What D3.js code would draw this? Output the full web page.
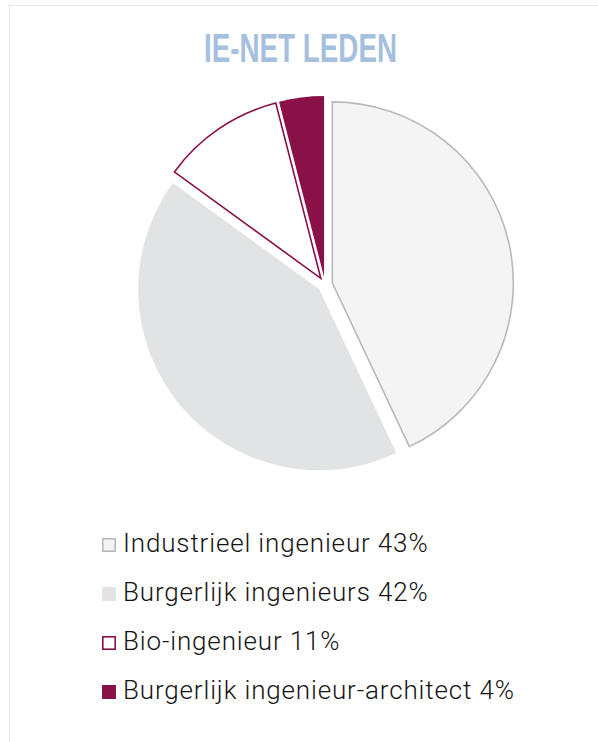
<!DOCTYPE html>
<html>
<head>
<meta charset="utf-8">
<script src="https://cdn.jsdelivr.net/npm/d3@7"></script>
<style>
  html, body { margin: 0; padding: 0; background: #fff; }
</style>
</head>
<body>
<div id="chart-area"></div>
<script>
const WIDTH = 598
const HEIGHT = 742

// data
const categories = ["Industrieel ingenieur", "Burgerlijk ingenieurs", "Bio-ingenieur", "Burgerlijk ingenieur-architect"]
const shares = [43, 42, 11, 4]
const legendLabels = ["Industrieel ingenieur 43%", "Burgerlijk ingenieurs 42%", "Bio-ingenieur 11%", "Burgerlijk ingenieur-architect 4%"]

const fills = ["#f4f4f5", "#e2e3e5", "#ffffff", "#8a1048"]
const strokes = ["#b9b9b9", "none", "#8a1048", "none"]

const CENTER = { X: 325, Y: 284.5 }
const RADIUS = 181
const EXPLODE = 7.5

const svg = d3.select("#chart-area").append("svg")
	.attr("width", WIDTH)
	.attr("height", HEIGHT)

// faint frame
svg.append("rect")
	.attr("x", 9.5)
	.attr("y", 5.5)
	.attr("width", WIDTH + 20)
	.attr("height", HEIGHT + 20)
	.attr("fill", "none")
	.attr("stroke", "#e6e6e6")

// title
svg.append("text")
	.attr("x", 300.5)
	.attr("y", 62)
	.attr("text-anchor", "middle")
	.attr("font-family", "'Liberation Sans Narrow', 'Liberation Sans', Arial, sans-serif")
	.attr("font-weight", "bold")
	.attr("font-size", "40px")
	.attr("fill", "#a5bfdf")
	.attr("textLength", 193)
	.attr("lengthAdjust", "spacingAndGlyphs")
	.text("IE-NET LEDEN")

// pie
const pie = d3.pie().sort(null).value(d => d)
const arc = d3.arc().innerRadius(0).outerRadius(RADIUS)
const arcs = pie(shares)

const g = svg.append("g")
	.attr("transform", `translate(${CENTER.X}, ${CENTER.Y})`)

g.selectAll("path.slice")
	.data(arcs)
	.enter().append("path")
	.attr("class", "slice")
	.attr("transform", d => {
		const mid = (d.startAngle + d.endAngle) / 2
		return `translate(${EXPLODE * Math.sin(mid)}, ${-EXPLODE * Math.cos(mid)})`
	})
	.attr("d", arc)
	.attr("fill", (d, i) => fills[i])
	.attr("stroke", (d, i) => strokes[i])
	.attr("stroke-width", 1.6)
	.attr("stroke-linejoin", "miter")

// legend
const legendY = d3.scalePoint()
	.domain(categories)
	.range([552, 699])

const legend = svg.append("g").attr("class", "legend")

const rows = legend.selectAll("g.row")
	.data(categories)
	.enter().append("g")
	.attr("class", "row")
	.attr("transform", d => `translate(0, ${legendY(d)})`)

rows.append("rect")
	.attr("x", (d, i) => strokes[i] === "none" ? 102 : 102.8)
	.attr("y", (d, i) => strokes[i] === "none" ? -14 : -13.2)
	.attr("width", (d, i) => strokes[i] === "none" ? 14 : 12.4)
	.attr("height", (d, i) => strokes[i] === "none" ? 14 : 12.4)
	.attr("fill", (d, i) => fills[i])
	.attr("stroke", (d, i) => strokes[i])
	.attr("stroke-width", 1.6)

rows.append("text")
	.attr("x", 123)
	.attr("y", 0)
	.attr("font-family", "Roboto, 'Liberation Sans', sans-serif")
	.attr("font-weight", 300)
	.attr("font-size", "26px")
	.attr("letter-spacing", "0.85px")
	.attr("fill", "#151515")
	.text((d, i) => legendLabels[i])
</script>
</body>
</html>
